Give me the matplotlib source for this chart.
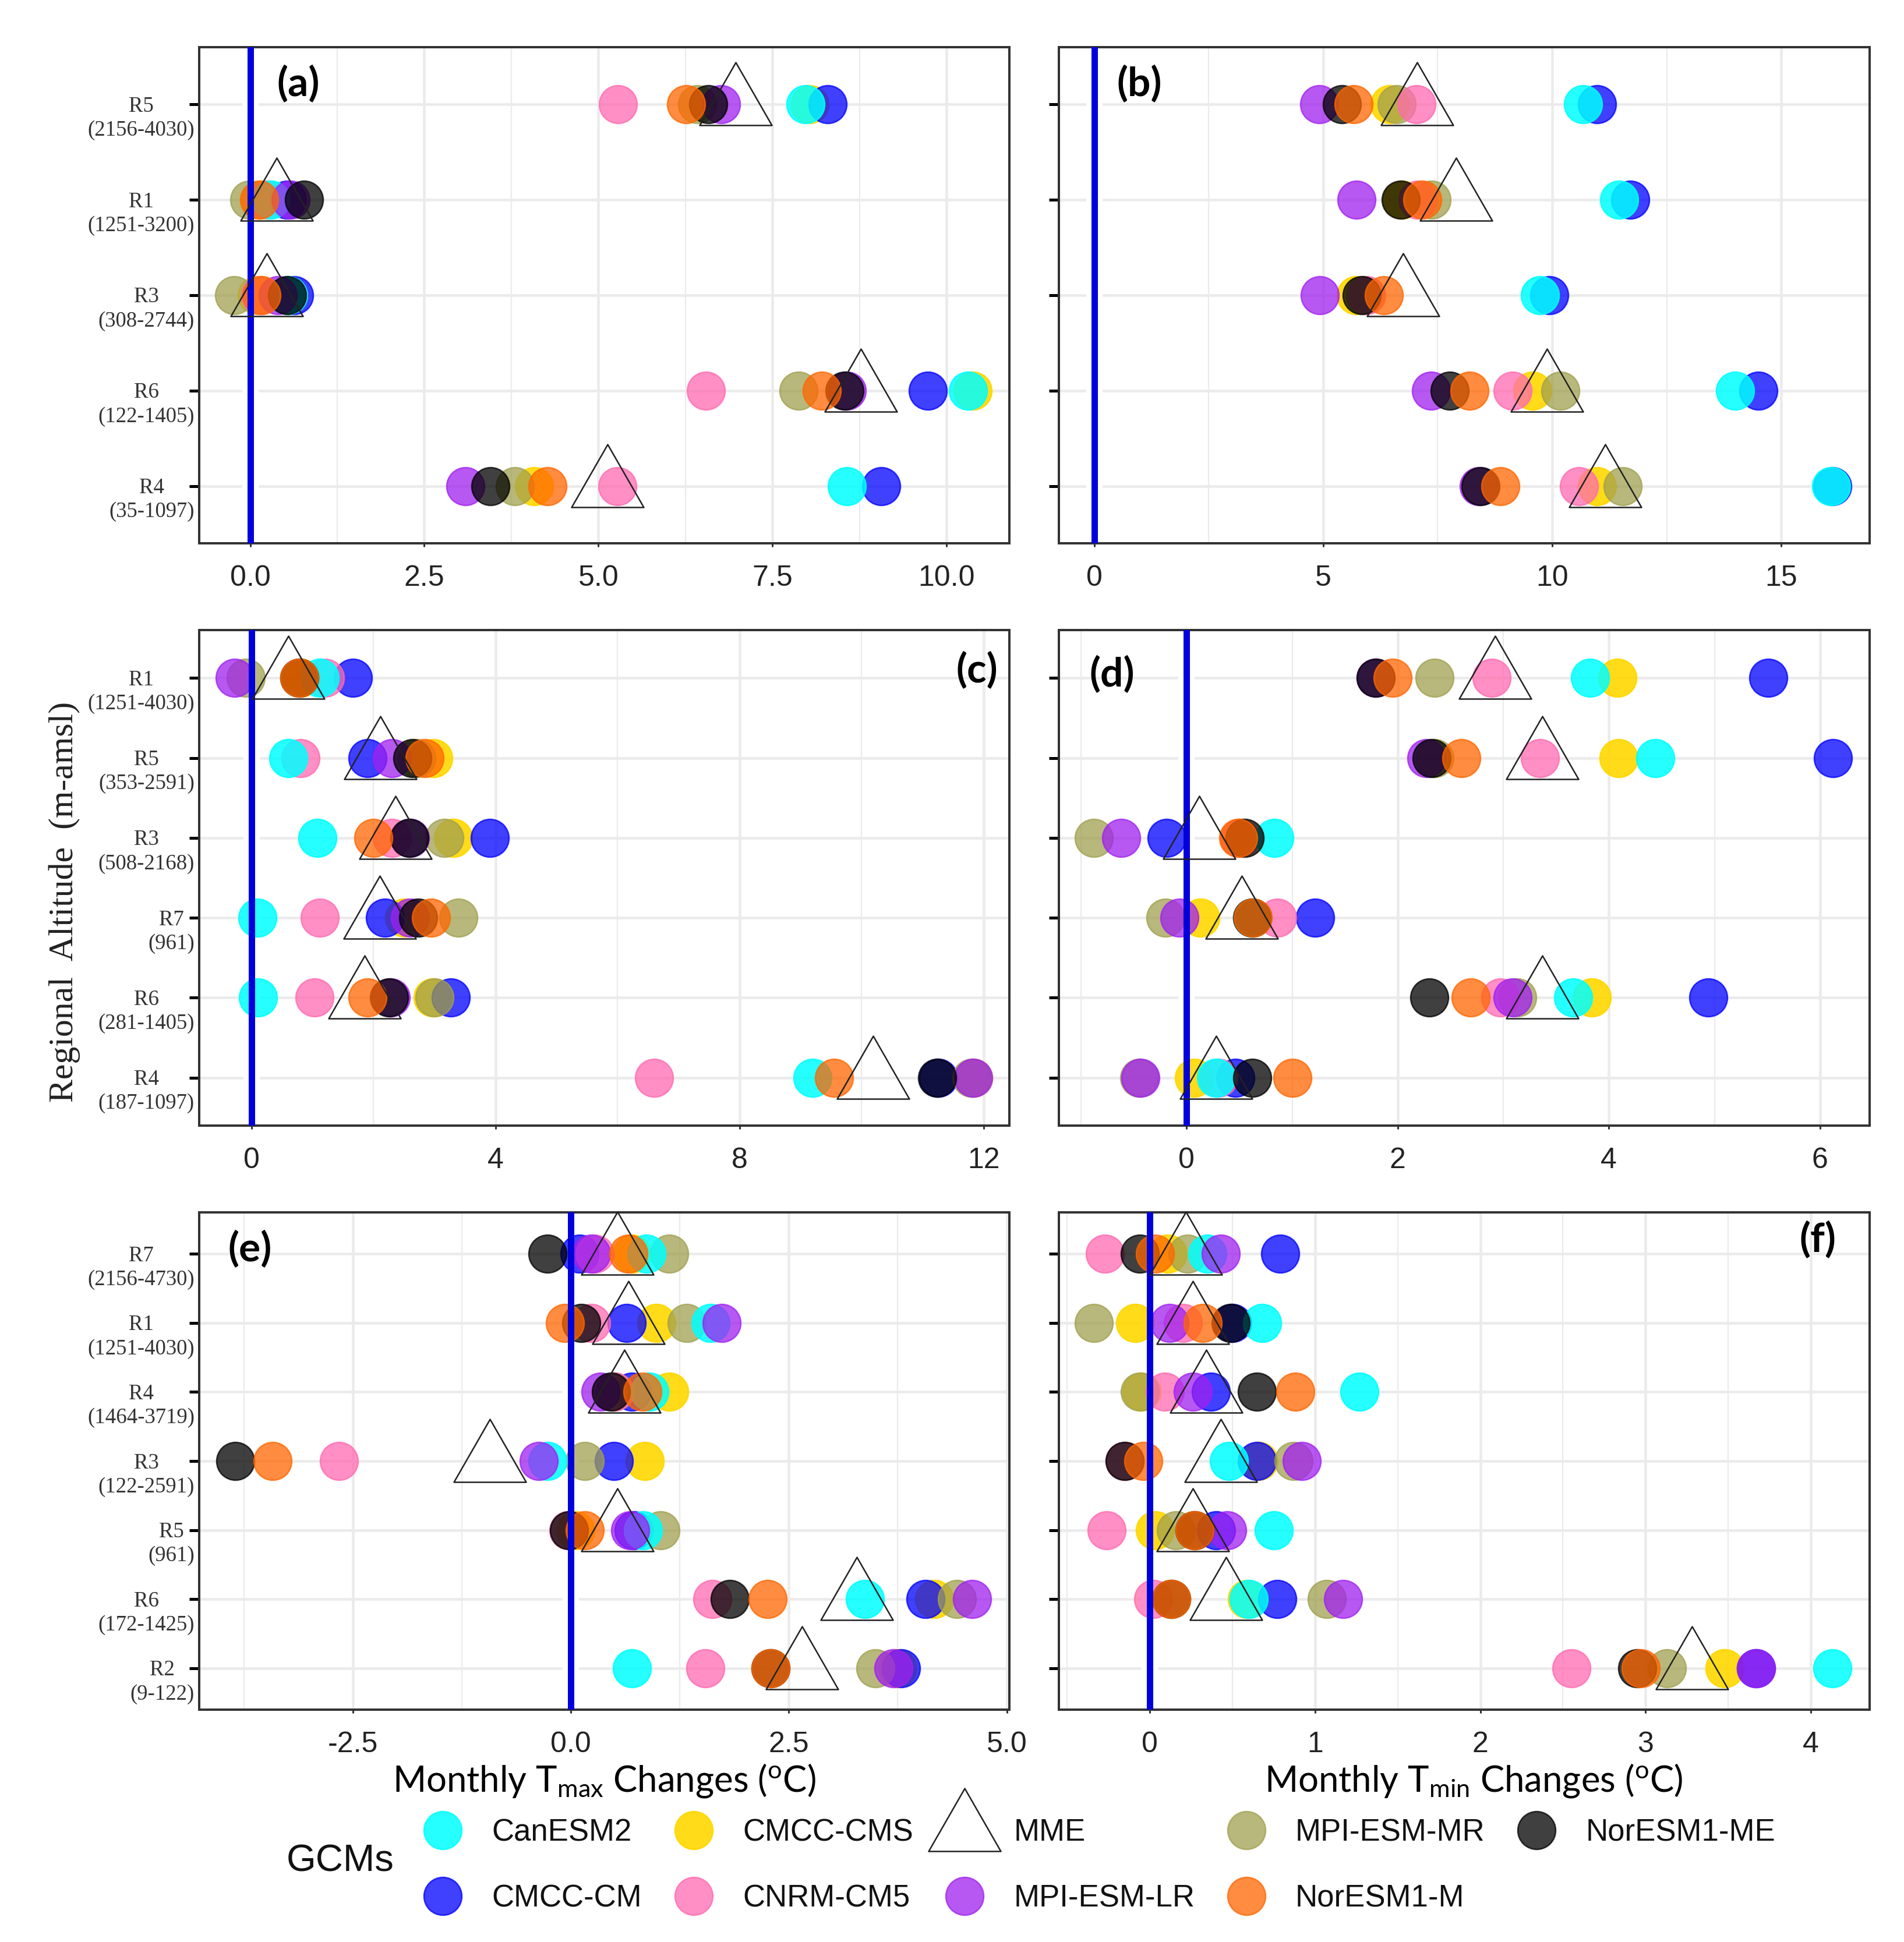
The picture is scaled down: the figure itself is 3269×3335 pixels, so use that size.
import matplotlib
matplotlib.use("Agg")
import matplotlib.pyplot as plt
from matplotlib.lines import Line2D
from matplotlib.path import Path
from matplotlib.ticker import FixedLocator
from matplotlib.transforms import ScaledTranslation

plt.rcParams['mathtext.fontset'] = 'custom'
plt.rcParams['mathtext.rm'] = 'Lato'
plt.rcParams['mathtext.default'] = 'rm'

# ---------- data: each model holds one list per panel (a..f), rows top to bottom ----------
rows_ab_a = ["R5\n(2156-4030)", "R1\n(1251-3200)", "R3\n(308-2744)", "R6\n(122-1405)", "R4\n(35-1097)"]
rows_cd = ["R1\n(1251-4030)", "R5\n(353-2591)", "R3\n(508-2168)", "R7\n(961)", "R6\n(281-1405)", "R4\n(187-1097)"]
rows_ef = ["R7\n(2156-4730)", "R1\n(1251-4030)", "R4\n(1464-3719)", "R3\n(122-2591)", "R5\n(961)", "R6\n(172-1425)", "R2\n(9-122)"]

CanESM2 = [[7.97, .3, .55, 10.31, 8.57], [10.67, 11.46, 9.73, 13.99, 16.09],
           [1.12, .6, 1.08, .1, .11, 9.19], [3.82, 4.44, .83, .62, 3.66, .28],
           [.87, 1.6, .9, -.27, .83, 3.37, .7], [.35, .68, 1.27, .48, .75, .6, 4.13]]
CMCC_CM = [[8.29, .53, .63, 9.73, 9.06], [10.98, 11.71, 9.94, 14.5, 16.11],
           [1.66, 1.9, 3.91, 2.19, 3.27, 11.26], [5.51, 6.12, -.19, 1.22, 4.94, .46],
           [.1, .64, .7, .49, .72, 4.07, 3.79], [.79, .5, .37, .65, .4, .77, 3.67]]
CMCC_CMS = [[8.03, .15, .1, 10.37, 4.08], [6.45, 6.72, 5.71, 9.57, 10.98],
            [.8, 2.98, 3.3, 2.5, 2.97, 11.83], [4.08, 4.09, .5, .13, 3.84, .07],
            [.7, .98, 1.13, .85, .05, 4.17, 3.75], [.11, -.09, -.05, .66, .03, .59, 3.48]]
CNRM_CM5 = [[5.28, .25, .15, 6.54, 5.27], [7.04, 7.06, 5.95, 9.14, 10.58],
            [1.2, .8, 2.3, 1.12, 1.03, 6.6], [2.89, 3.35, .5, .86, 2.97, .3],
            [.27, .23, .5, -2.66, -.03, 1.62, 1.54], [-.27, .2, .09, -.15, -.26, .02, 2.55]]
MPI_ESM_LR = [[6.76, .58, .4, 8.57, 3.09], [4.91, 5.73, 4.93, 7.35, 8.4],
              [-.27, 2.3, 2.6, 2.6, 2.28, 11.83], [1.79, 2.27, -.62, -.07, 3.09, -.44],
              [.23, 1.73, .34, -.37, .68, 4.6, 3.7], [.43, .12, .26, .92, .47, 1.17, 3.67]]
MPI_ESM_MR = [[6.42, -.01, -.23, 7.87, 3.8], [6.6, 7.37, 5.9, 10.18, 11.54],
              [-.09, 2.7, 3.16, 3.39, 3.0, 11.8], [2.35, 2.35, -.88, -.2, 3.13, -.45],
              [1.13, 1.33, .5, .16, 1.03, 4.43, 3.49], [.23, -.34, -.06, .87, .16, 1.07, 3.13]]
NorESM1_M = [[6.26, .13, .16, 8.21, 4.27], [5.67, 7.16, 6.33, 8.19, 8.87],
             [.78, 2.84, 2.0, 2.94, 1.9, 9.55], [1.95, 2.6, .49, .63, 2.69, 1.0],
             [.66, -.07, .82, -3.42, .16, 2.26, 2.29], [.03, .32, .88, -.04, .27, .13, 2.97]]
NorESM1_ME = [[6.58, .77, .53, 8.53, 3.45], [5.41, 6.69, 5.84, 7.76, 8.44],
              [.78, 2.64, 2.59, 2.73, 2.25, 11.24], [1.79, 2.32, .55, .62, 2.3, .62],
              [-.27, .12, .46, -3.85, -.02, 1.82, 2.29], [-.06, .49, .65, -.15, .27, .13, 2.95]]
MME = [[6.97, .38, .235, 8.77, 5.13], [7.05, 7.9, 6.75, 9.89, 11.16],
       [.6, 2.11, 2.36, 2.1, 1.85, 10.19], [2.92, 3.37, .12, .52, 3.37, .28],
       [.53, .66, .61, -.93, .53, 3.28, 2.65], [.22, .26, .34, .43, .26, .46, 3.28]]

xticks_a = [0, 2.5, 5, 7.5, 10]
xticks_b = [0, 5, 10, 15]
xticks_c = [0, 4, 8, 12]
xticks_d = [0, 2, 4, 6]
xticks_e = [-2.5, 0, 2.5, 5]
xticks_f = [0, 1, 2, 3, 4]
xlabels_a = ["0.0", "2.5", "5.0", "7.5", "10.0"]
xlabels_b = ["0", "5", "10", "15"]
xlabels_c = ["0", "4", "8", "12"]
xlabels_d = ["0", "2", "4", "6"]
xlabels_e = ["-2.5", "0.0", "2.5", "5.0"]
xlabels_f = ["0", "1", "2", "3", "4"]

# ---------- styles ----------
W, H = 3269, 3335
DPI = 100
px = 72 / DPI  # points per pixel

# drawing order: name, values, colour, alpha
models = [("CMCC-CMS", CMCC_CMS, "#FFD700", .9),
          ("CMCC-CM", CMCC_CM, "#0000FF", .75),
          ("MPI-ESM-MR", MPI_ESM_MR, "#A0A050", .75),
          ("CNRM-CM5", CNRM_CM5, "#FF6AB0", .75),
          ("CanESM2", CanESM2, "#00FFFF", .85),
          ("MPI-ESM-LR", MPI_ESM_LR, "#A020F0", .75),
          ("NorESM1-ME", NorESM1_ME, "#000000", .75),
          ("NorESM1-M", NorESM1_M, "#FF6600", .75)]

tri = Path([(-62, -36), (62, -36), (0, 72), (-62, -36)], closed=True)
disc = dict(ls="none", marker="o", ms=65 * px, mew=2.5 * px)
triangle = dict(ls="none", marker=tri, ms=144 * px, mfc="none", mec="#222222", mew=2.5 * px)

panels = [
    ("(a)", (342, 1733, 81, 933), (-0.732, 10.90), rows_ab_a, xticks_a, xlabels_a, (.1226, .925)),
    ("(b)", (1818, 3210, 81, 933), (-0.77, 16.93), None, xticks_b, xlabels_b, (.0995, .925)),
    ("(c)", (342, 1733, 1082, 1933), (-0.857, 12.42), rows_cd, xticks_c, xlabels_c, (.9597, .918)),
    ("(d)", (1818, 3210, 1082, 1933), (-1.21, 6.47), None, xticks_d, xlabels_d, (.0657, .910)),
    ("(e)", (342, 1733, 2082, 2936), (-4.265, 5.03), rows_ef, xticks_e, xlabels_e, (.0629, .926)),
    ("(f)", (1818, 3210, 2082, 2936), (-0.55, 4.356), None, xticks_f, xlabels_f, (.9364, .944)),
]

fig = plt.figure(figsize=(W / DPI, H / DPI), dpi=DPI, facecolor="white")

for i, (tag, (l, r, t, b), xlim, rows, xt, xl, tagpos) in enumerate(panels):
    ax = fig.add_axes([l / W, 1 - b / H, (r - l) / W, (b - t) / H])
    n = len(MME[i])
    y = list(range(n, 0, -1))
    ax.set_xlim(*xlim)
    ax.set_ylim(0.4, n + 0.6)
    ax.set_axisbelow(True)
    ax.set_xticks(xt)
    ax.set_xticklabels(xl, family="Liberation Sans", fontsize=36, color="#222222")
    mids = [(a + c) / 2 for a, c in zip(xt[:-1], xt[1:])]
    step = xt[1] - xt[0]
    mids = [xt[0] - step / 2] + mids + [xt[-1] + step / 2]
    ax.xaxis.set_minor_locator(FixedLocator(mids))
    ax.set_yticks(y)
    ax.grid(True, which="major", color="#EBEBEB", lw=4.5 * px)
    ax.grid(True, which="minor", axis="x", color="#EBEBEB", lw=2.2 * px)
    ax.tick_params(axis="x", which="major", length=6 * px, width=3 * px, color="#333333", pad=31 * px)
    ax.tick_params(axis="x", which="minor", length=0)
    ax.tick_params(axis="y", length=17 * px, width=5 * px, color="black", pad=-9 * px)
    if rows is not None:
        ax.set_yticklabels(rows, family="Liberation Serif", fontsize=26.5, color="#333333",
                           linespacing=1.25, va="top", multialignment="center")
        shift = ScaledTranslation(0, 14 / DPI, fig.dpi_scale_trans)
        for lab in ax.get_yticklabels():
            lab.set_transform(lab.get_transform() + shift)
    else:
        ax.set_yticklabels([])
    for s in ax.spines.values():
        s.set_linewidth(4 * px)
        s.set_color("#333333")

    ax.axvline(0, color="white", lw=28 * px, zorder=0.7)
    for name, vals, col, a in models:
        ax.plot(vals[i], y, color=col, mfc=col, mec=col, alpha=a, zorder=2, **disc)
    ax.axvline(0, color="#0000DC", lw=11 * px, zorder=3)
    ax.plot(MME[i], y, zorder=4, clip_on=False, **triangle)
    ax.text(*tagpos, tag, transform=ax.transAxes, family="Lato", weight="bold", fontsize=50,
            ha="center", va="center", color="black", zorder=5)

fig.text(111 / W, 1 - 1549 / H, "Regional  Altitude  (m-amsl)", family="Liberation Serif",
         fontsize=43, rotation=90, ha="center", va="center", color="#222222")
fig.text(1037 / W, 1 - 3058 / H, r"Monthly T$_{max}$ Changes ($^{o}$C)", family="Lato",
         fontsize=44.5, ha="center", va="center", color="black")
fig.text(2530 / W, 1 - 3058 / H, r"Monthly T$_{min}$ Changes ($^{o}$C)", family="Lato",
         fontsize=44.5, ha="center", va="center", color="black")

# legend (column-wise alphabetical order as in the reference)
lookup = {m[0]: m for m in models}
order = ["CanESM2", "CMCC-CM", "CMCC-CMS", "CNRM-CM5", "MME", "MPI-ESM-LR", "MPI-ESM-MR", "NorESM1-M", "NorESM1-ME"]
handles = []
for name in order:
    if name == "MME":
        handles.append(Line2D([], [], **triangle))
    else:
        _, _, col, a = lookup[name]
        handles.append(Line2D([], [], color=col, mfc=col, mec=col, alpha=a, **disc))
fig.legend(handles, order, ncol=5, loc="center left", bbox_to_anchor=(734 / W, 1 - 3204 / H),
           bbox_transform=fig.transFigure, frameon=False, borderpad=0, borderaxespad=0,
           handlelength=1, handletextpad=1.1, columnspacing=1.17, labelspacing=1.2,
           prop={"family": "Liberation Sans", "size": 38}, labelcolor="#111111")
fig.text(584 / W, 1 - 3196 / H, "GCMs", family="Liberation Sans", fontsize=47,
         ha="center", va="center", color="#111111")

fig.savefig("out.png", dpi=DPI, facecolor="white")
